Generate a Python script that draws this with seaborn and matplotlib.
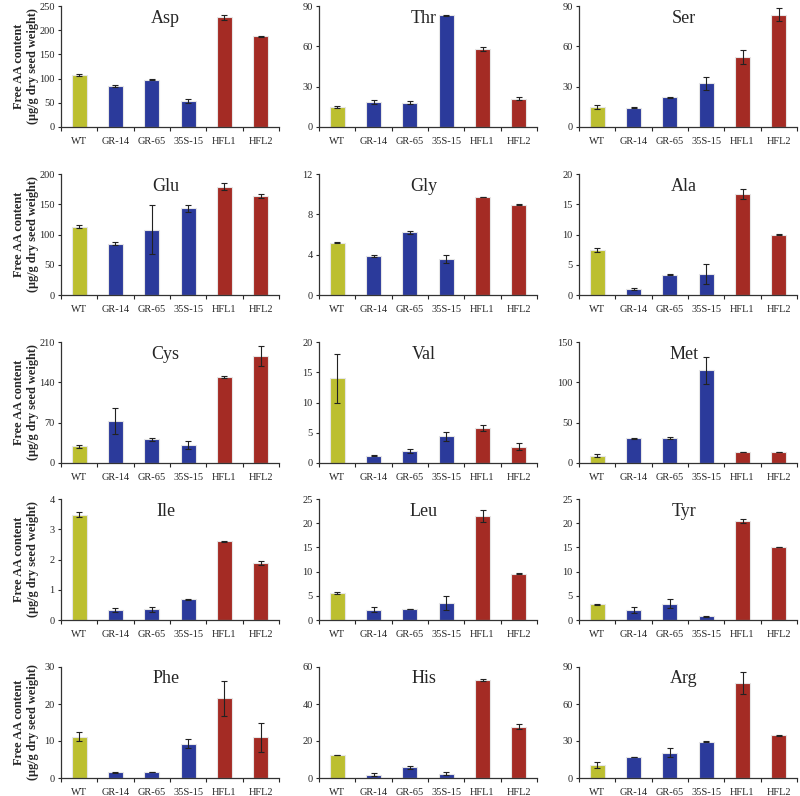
import numpy as np
import pandas as pd
import seaborn as sns
import matplotlib.pyplot as plt
from matplotlib.ticker import FixedLocator

lines = ["WT", "GR-14", "GR-65", "35S-15", "HFL1", "HFL2"]
groups = ["wt", "gr", "gr", "gr", "hfl", "hfl"]
group_colors = {"wt": "#bcbf30", "gr": "#2b3a9b", "hfl": "#a42b24"}

amino_acids = ["Asp", "Thr", "Ser", "Glu", "Gly", "Ala", "Cys", "Val", "Met",
               "Ile", "Leu", "Tyr", "Phe", "His", "Arg"]

asp = [108, 85, 98, 54, 227, 187]
asp_err = [2, 2, 1, 4, 5, 2]
thr = [15, 18.5, 18, 83, 58, 21]
thr_err = [0.5, 1.5, 1, 0.3, 1.3, 1]
ser = [15, 14.5, 22, 32.5, 52, 83.5]
ser_err = [1.5, 0.5, 0.3, 5, 5, 5]
glu = [113, 85, 108, 143, 179, 164]
glu_err = [2, 3, 40, 6, 6, 3]
gly = [5.2, 3.9, 6.2, 3.6, 9.7, 8.95]
gly_err = [0.02, 0.1, 0.15, 0.4, 0.03, 0.03]
ala = [7.4, 1.0, 3.35, 3.5, 16.7, 10.0]
ala_err = [0.35, 0.15, 0.05, 1.7, 0.9, 0.05]
cys = [29, 73, 41, 31, 149, 186]
cys_err = [3, 22, 3, 7, 2, 17]
val = [14, 1.2, 2.0, 4.4, 5.8, 2.7]
val_err = [4, 0.05, 0.3, 0.8, 0.5, 0.6]
met = [9, 30.5, 31, 115, 13.5, 13.5]
met_err = [2, 0.7, 1.5, 17, 0.3, 0.3]
ile = [3.48, 0.33, 0.35, 0.68, 2.6, 1.88]
ile_err = [0.08, 0.08, 0.07, 0.03, 0.02, 0.07]
leu = [5.5, 2.1, 2.3, 3.5, 21.5, 9.6]
leu_err = [0.2, 0.5, 0.05, 1.5, 1.3, 0.1]
tyr = [3.3, 2.0, 3.4, 0.8, 20.5, 15.1]
tyr_err = [0.1, 0.6, 1.0, 0.1, 0.4, 0.05]
phe = [11.2, 1.5, 1.6, 9.3, 21.5, 11.0]
phe_err = [1.2, 0.1, 0.1, 1.2, 4.8, 3.9]
his = [12.5, 1.8, 5.7, 2.3, 53, 27.8]
his_err = [0.2, 0.8, 1.0, 0.8, 0.6, 1.5]
arg = [10.5, 17, 20.5, 29.5, 77, 34.5]
arg_err = [2.5, 0.3, 3.5, 0.3, 9, 0.7]

values = [asp, thr, ser, glu, gly, ala, cys, val, met, ile, leu, tyr, phe, his, arg]
errors = [asp_err, thr_err, ser_err, glu_err, gly_err, ala_err, cys_err, val_err,
          met_err, ile_err, leu_err, tyr_err, phe_err, his_err, arg_err]

# y axis limit and tick step per panel
y_max = [250, 90, 90, 200, 12, 20, 210, 20, 150, 4, 25, 25, 30, 60, 90]
y_step = [50, 30, 30, 50, 4, 5, 70, 5, 50, 1, 5, 5, 10, 20, 30]

sns.set_style("ticks")
plt.rcParams['font.family'] = ['Liberation Serif', 'DejaVu Serif']

fig = plt.figure(figsize=(8, 7.96), dpi=100)
W, H = 800, 796
col_left = [61, 319, 579]
ax_w = 218
rows = [(6, 127), (174, 295), (342, 463), (499, 620), (667, 778)]

for i, aa in enumerate(amino_acids):
    r, c = divmod(i, 3)
    top, bottom = rows[r]
    ax = fig.add_axes([col_left[c] / W, 1 - bottom / H, ax_w / W, (bottom - top) / H])
    df = pd.DataFrame({"line": lines, "value": values[i], "group": groups})
    sns.barplot(data=df, x="line", y="value", hue="group", palette=group_colors,
                dodge=False, width=0.42, saturation=1, edgecolor="#e6e6e6",
                linewidth=0.8, legend=False, ax=ax)
    ax.errorbar(np.arange(len(lines)), values[i], yerr=errors[i], fmt="none",
                ecolor="#222222", elinewidth=0.8, capsize=2, capthick=0.8)
    ax.set_xlim(-0.5, 5.5)
    ax.set_ylim(0, y_max[i])
    ax.set_yticks(np.arange(0, y_max[i] + y_step[i] / 2, y_step[i]))
    ax.tick_params(axis="y", labelsize=7.5, length=2.5, width=0.8, pad=2)
    ax.tick_params(axis="x", which="major", labelsize=7.5, length=0, pad=7)
    ax.xaxis.set_minor_locator(FixedLocator(np.arange(-0.5, 6, 1)))
    ax.tick_params(axis="x", which="minor", length=3, width=0.8)
    ax.set_xlabel("")
    ax.set_ylabel("")
    sns.despine(ax=ax)
    for s in ["left", "bottom"]:
        ax.spines[s].set_linewidth(0.9)
        ax.spines[s].set_color("#333333")
    ax.text(0.48, 0.97, aa, transform=ax.transAxes, ha="center", va="top", fontsize=13)
    if c == 0:
        ax.set_ylabel("Free AA content\n(\u03bcg/g dry seed weight)", fontsize=8.8,
                      fontweight="bold")
        ax.yaxis.set_label_coords(-0.1, 0.5)

fig.savefig("out.png", dpi=100)
